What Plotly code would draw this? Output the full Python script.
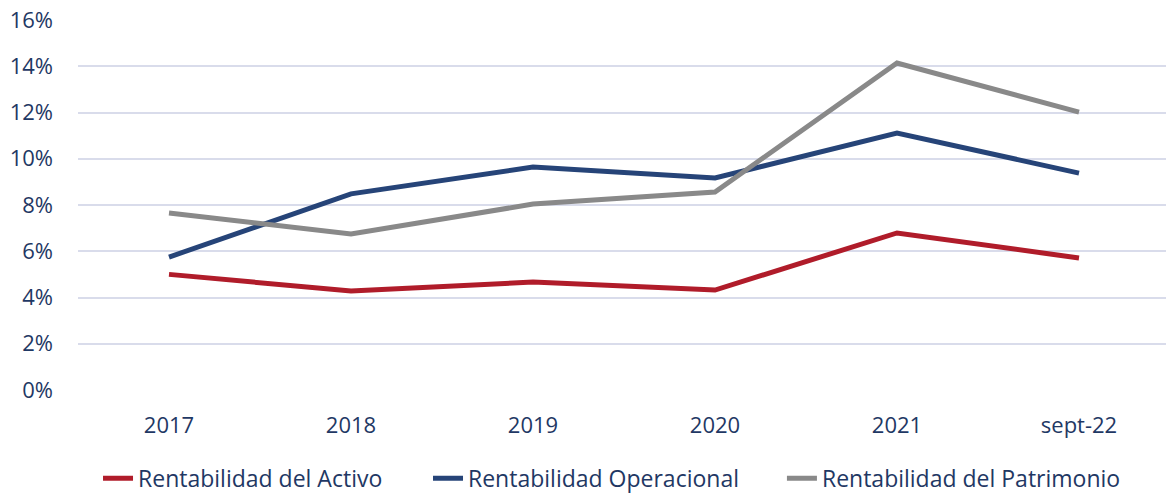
import plotly.graph_objects as go

categories = ["2017", "2018", "2019", "2020", "2021", "sept-22"]
activo = [5.0, 4.28, 4.67, 4.32, 6.79, 5.71]
operacional = [5.75, 8.48, 9.64, 9.17, 11.11, 9.38]
patrimonio = [7.65, 6.75, 8.04, 8.56, 14.14, 12.02]
y_ticks = [0, 2, 4, 6, 8, 10, 12, 14, 16]
y_tick_labels = [f"{v}%" for v in y_ticks]

series = [
    ("Rentabilidad del Activo", activo, "#B01C2A", "legend", 0.0184),
    ("Rentabilidad Operacional", operacional, "#264478", "legend2", 0.3217),
    ("Rentabilidad del Patrimonio", patrimonio, "#898989", "legend3", 0.647),
]

text_color = "#1F3864"
font_family = "Open Sans, Noto Sans, sans-serif"

fig = go.Figure()
for name, vals, color, leg, _ in series:
    fig.add_trace(go.Scatter(
        x=categories, y=vals, name=name, mode="lines",
        line=dict(color=color, width=5), legend=leg,
    ))

legend_common = dict(
    orientation="h", xanchor="left",
    yref="container", y=0.03, yanchor="middle",
    font=dict(size=23, color=text_color, family=font_family),
    itemwidth=30, bgcolor="rgba(0,0,0,0)",
)
layout_legends = {}
for name, vals, color, leg, lx in series:
    layout_legends[leg] = dict(legend_common, x=lx)

fig.update_layout(
    width=1166, height=493,
    margin=dict(l=78, r=0, t=20, b=103),
    paper_bgcolor="white", plot_bgcolor="white",
    font=dict(family=font_family, size=22, color=text_color),
    showlegend=True,
    xaxis=dict(
        type="category", showgrid=False, zeroline=False, showline=False,
        ticks="", ticklabelstandoff=20, automargin=False,
        range=[-0.5, 5.478],
    ),
    yaxis=dict(
        range=[0, 16.0001], tickvals=y_ticks, ticktext=y_tick_labels,
        showgrid=True, gridcolor="#D9DCEB", gridwidth=2,
        zeroline=False, showline=False, ticks="",
        ticklabelstandoff=24, automargin=False,
    ),
    **layout_legends,
)

fig.write_html(
    "out.html",
    config={"displayModeBar": False},
    post_script="document.body.style.margin='0';document.body.style.overflow='hidden';",
)
